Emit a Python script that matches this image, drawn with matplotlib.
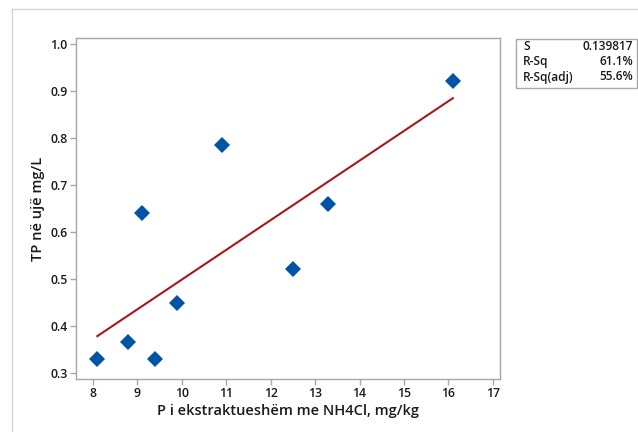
import matplotlib
matplotlib.use("Agg")
import matplotlib.pyplot as plt
import numpy as np
from matplotlib.lines import Line2D
from matplotlib.patches import Rectangle

# data
p_nh4cl = [8.1, 8.8, 9.4, 9.9, 12.5, 9.1, 10.9, 16.1, 13.3]
tp_water = [0.330, 0.367, 0.330, 0.449, 0.522, 0.641, 0.785, 0.922, 0.660]
x_ticks = [8, 9, 10, 11, 12, 13, 14, 15, 16, 17]
y_ticks = [0.3, 0.4, 0.5, 0.6, 0.7, 0.8, 0.9, 1.0]
stat_names = ["S", "R-Sq", "R-Sq(adj)"]
stat_values = ["0.139817", "61.1%", "55.6%"]

plt.rcParams['font.family'] = ['Open Sans', 'DejaVu Sans']

W, H = 638, 432
fig = plt.figure(figsize=(W / 100, H / 100), dpi=100)

def fx(px):
    return px / W

def fy(py):
    return 1 - py / H

# outer light frame (cut off on right/bottom)
fig.add_artist(Line2D([fx(11.5), 1], [fy(8.5), fy(8.5)], color='#d4d4d4', lw=1))
fig.add_artist(Line2D([fx(11.5), fx(11.5)], [fy(8.5), 0], color='#d4d4d4', lw=1))

ax = fig.add_axes([fx(76), fy(379), fx(500) - fx(76), fy(38) - fy(379)])

x = np.array(p_nh4cl)
y = np.array(tp_water)
slope, intercept = np.polyfit(x, y, 1)
xs = np.linspace(x.min(), x.max(), 50)
ax.plot(xs, intercept + slope * xs, color='#a5191b', lw=1.5, zorder=2)
ax.plot(x, y, 'D', color='#0054a6', markersize=7.8, markeredgewidth=0, zorder=3)

ax.set_xlim(7.62, 17.16)
ax.set_ylim(0.288, 1.013)
ax.set_xticks(x_ticks)
ax.set_yticks(y_ticks)
ax.set_xticklabels([str(t) for t in x_ticks])
ax.set_yticklabels(["%.1f" % t for t in y_ticks])

for s in ax.spines.values():
    s.set_color('#a8a8a8')
    s.set_linewidth(1)
ax.tick_params(direction='out', length=4, width=1, color='#a8a8a8',
               labelsize=8.8, labelcolor='#1a1a1a', pad=2)
for lab in ax.get_xticklabels() + ax.get_yticklabels():
    lab.set_fontweight('semibold')

ax.set_xlabel("P i ekstraktueshëm me NH4Cl, mg/kg", fontsize=10.5,
              fontweight='semibold', color='#1a1a1a', labelpad=3)
ax.set_ylabel("TP në ujë mg/L", fontsize=10.5, fontweight='semibold',
              color='#1a1a1a', labelpad=4)

# stats box
fig.add_artist(Rectangle((fx(516), fy(87.5)), fx(637) - fx(516), fy(38.5) - fy(87.5),
                         transform=fig.transFigure, fill=False,
                         edgecolor='#a8a8a8', lw=1))
row_y = [46, 61.5, 77]
for name, val, ry in zip(stat_names, stat_values, row_y):
    fig.text(fx(523), fy(ry), name, fontsize=8.6, fontweight='semibold',
             color='#1a1a1a', ha='left', va='center')
    fig.text(fx(633), fy(ry), val, fontsize=8.6, fontweight='semibold',
             color='#1a1a1a', ha='right', va='center')

fig.savefig("out.png", dpi=100)
